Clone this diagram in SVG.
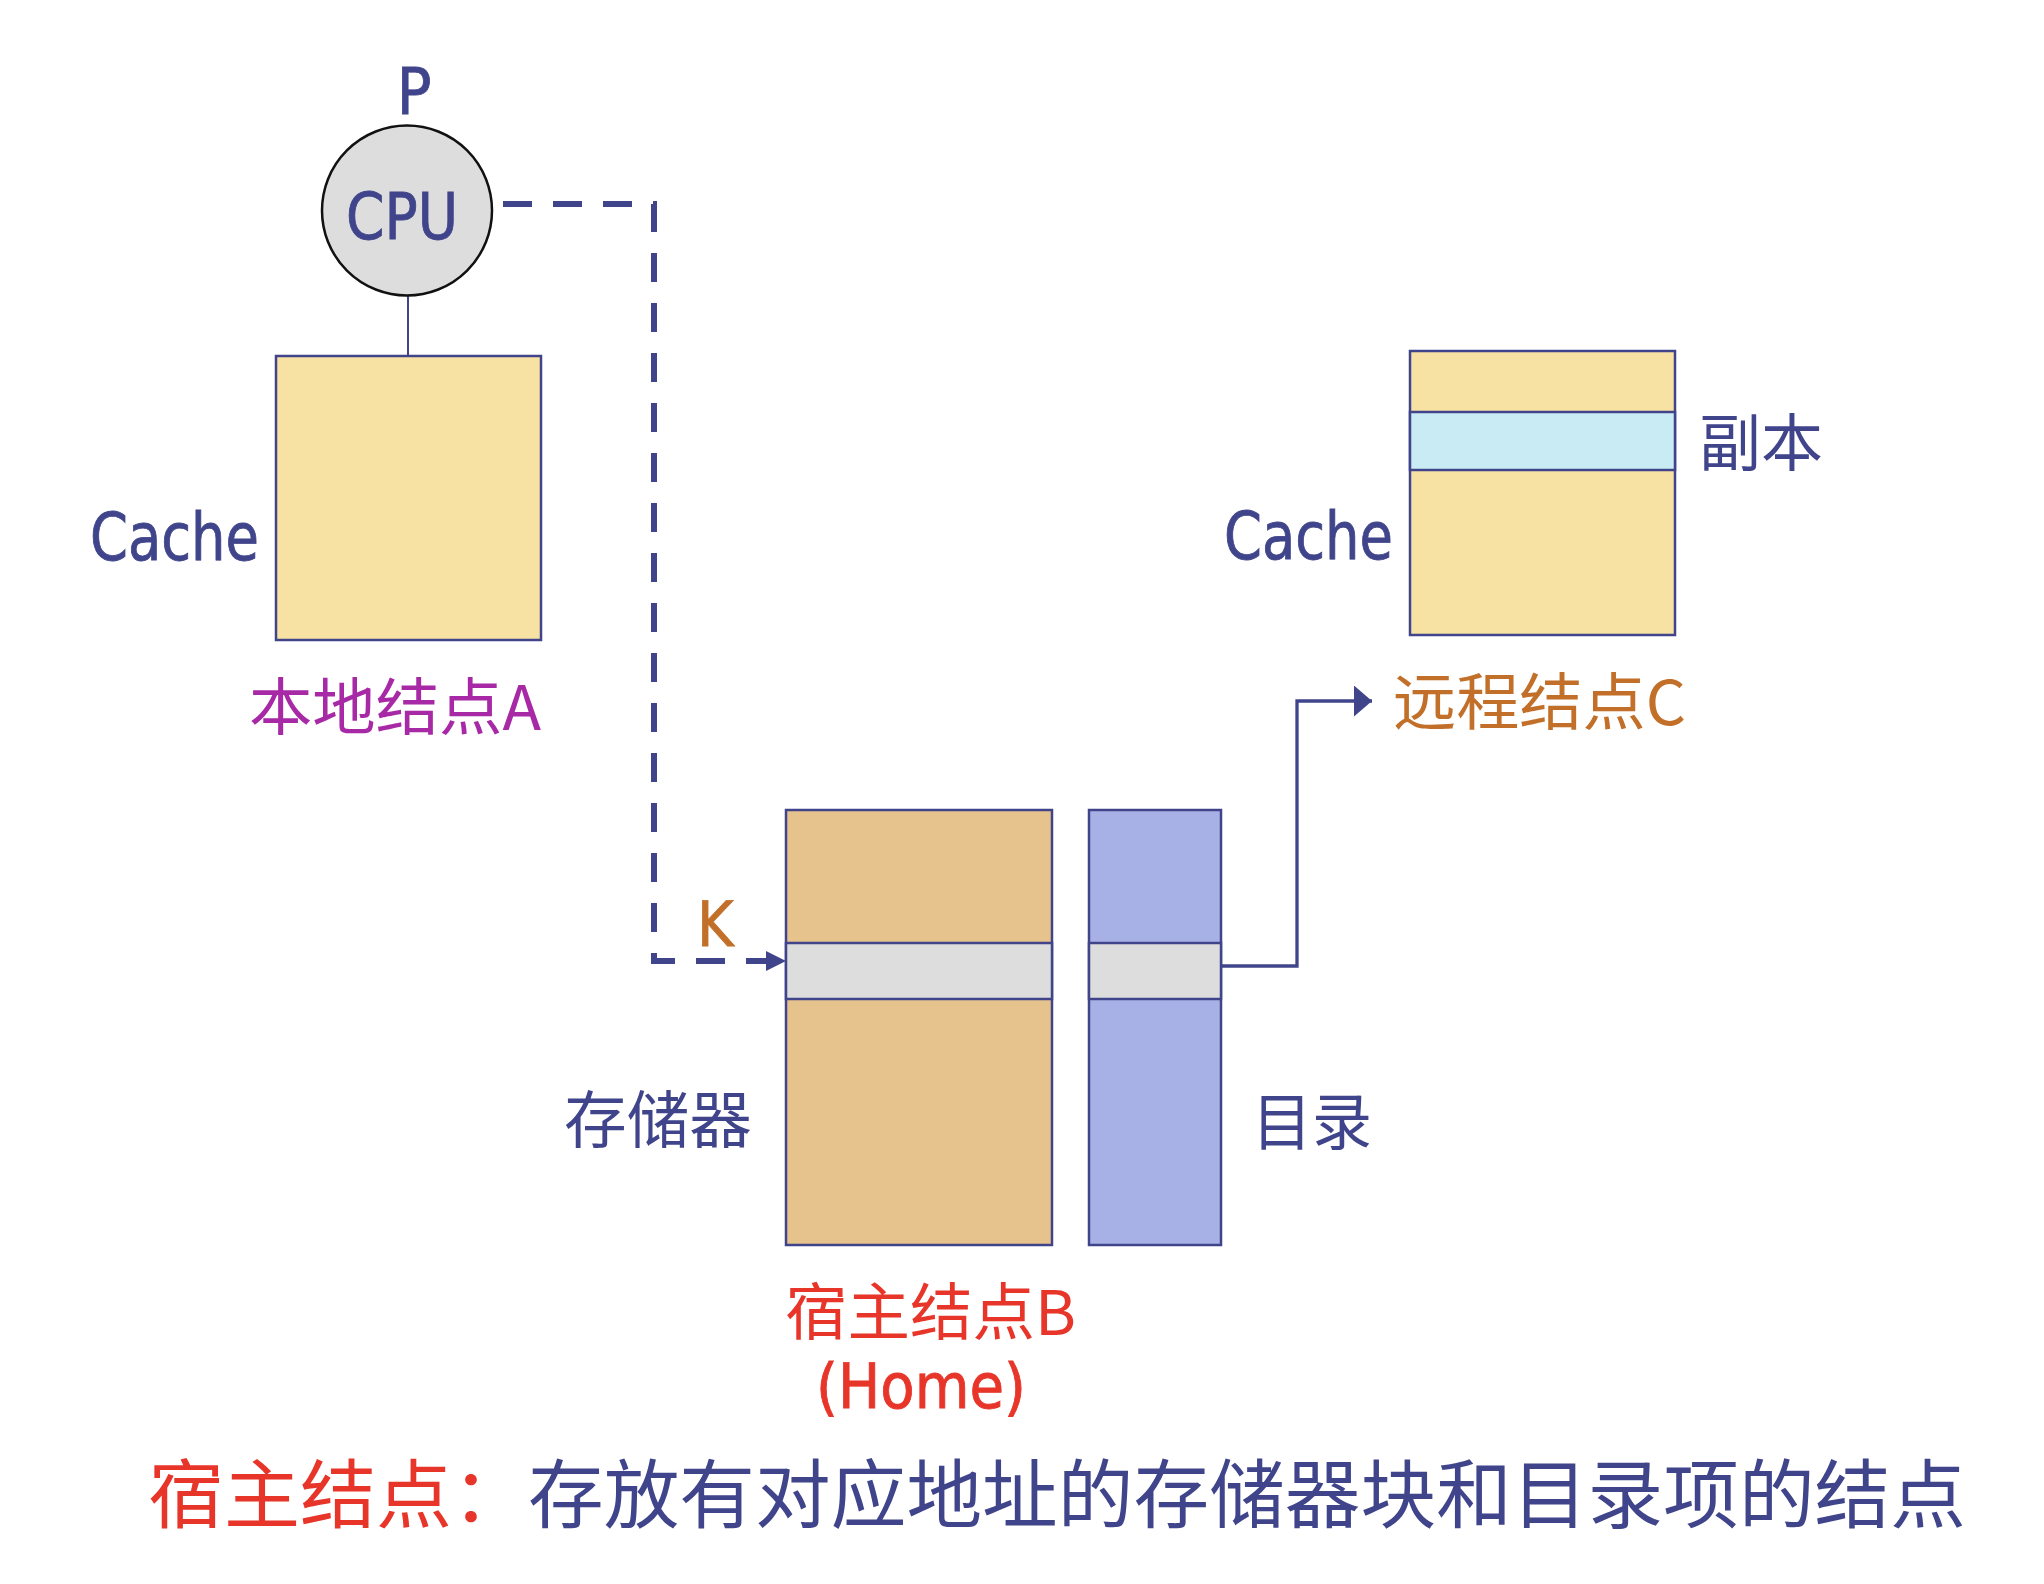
<svg xmlns="http://www.w3.org/2000/svg" width="2044" height="1584" viewBox="0 0 2044 1584">
<style>
.lat{font-family:"DejaVu Sans Condensed","DejaVu Sans",sans-serif;stroke-width:0.8;}
.cjk{font-family:"Noto Sans CJK SC","Noto Sans CJK TC",sans-serif;}
.navy{fill:#40458b;}
.lat.navy{stroke:#40458b;}
.box{stroke:#40458b;stroke-width:2.5;}
.cache{fill:#f7e2a4;}
.mem{fill:#e6c28c;}
.dir{fill:#a8b1e6;}
.band{fill:#dddddd;}
.copy{fill:#c9ebf3;}
.line{fill:none;stroke:#40458b;}
</style>
<defs>
<marker id="arrDash" markerUnits="userSpaceOnUse" markerWidth="22" markerHeight="22" refX="20" refY="10" orient="auto">
<path d="M0,0 L20,10 L0,20 Z" fill="#40458b"/>
</marker>
<marker id="arrSolid" markerUnits="userSpaceOnUse" markerWidth="20" markerHeight="32" refX="18" refY="15.5" orient="auto">
<path d="M0,0 L18,15.5 L0,31 Z" fill="#40458b"/>
</marker>
</defs>
<rect width="2044" height="1584" fill="#ffffff"/>

<g id="connectors">
<line class="line" x1="408" y1="296" x2="408" y2="356" stroke-width="2"/>
<path class="line" d="M503,204 H654 V961 H786" stroke-width="6" stroke-dasharray="29,21" marker-end="url(#arrDash)"/>
<path class="line" d="M1221,966 H1297 V701 H1372" stroke-width="3.3" marker-end="url(#arrSolid)"/>
</g>

<g id="nodeA">
<text class="lat navy" x="414" y="114" font-size="64" text-anchor="middle">P</text>
<circle cx="407" cy="210.5" r="85" fill="#dddddd" stroke="#111111" stroke-width="2.5"/>
<text class="lat navy" x="346" y="239" font-size="64" textLength="112" lengthAdjust="spacingAndGlyphs">CPU</text>
<rect class="box cache" x="276" y="356" width="265" height="284"/>
<text class="lat navy" x="90" y="560" font-size="66" textLength="169" lengthAdjust="spacingAndGlyphs">Cache</text>
<text class="cjk" x="249" y="730" font-size="62" fill="#a829a6" textLength="292" lengthAdjust="spacingAndGlyphs">本地结点A</text>
</g>

<g id="nodeB">
<rect class="box mem" x="786" y="810" width="266" height="435"/>
<rect class="box band" x="786" y="943" width="266" height="56"/>
<rect class="box dir" x="1089" y="810" width="132" height="435"/>
<rect class="box band" x="1089" y="943" width="132" height="56"/>
<text class="lat" x="697" y="946" font-size="62" fill="#c26f2a" stroke="#c26f2a">K</text>
<text class="cjk navy" x="564" y="1143" font-size="62" textLength="188" lengthAdjust="spacingAndGlyphs">存储器</text>
<text class="cjk navy" x="1252" y="1145" font-size="62" textLength="120" lengthAdjust="spacingAndGlyphs">目录</text>
<text class="cjk" x="785" y="1335" font-size="62" fill="#e8352a" textLength="291" lengthAdjust="spacingAndGlyphs">宿主结点B</text>
<text class="lat" x="816" y="1408" font-size="62" fill="#e8352a" stroke="#e8352a" textLength="210" lengthAdjust="spacingAndGlyphs">(Home)</text>
</g>

<g id="nodeC">
<rect class="box cache" x="1410" y="351" width="265" height="284"/>
<rect class="box copy" x="1410" y="412" width="265" height="58"/>
<text class="cjk navy" x="1699" y="466" font-size="62" textLength="124" lengthAdjust="spacingAndGlyphs">副本</text>
<text class="lat navy" x="1224" y="559" font-size="66" textLength="169" lengthAdjust="spacingAndGlyphs">Cache</text>
<text class="cjk" x="1393" y="725" font-size="62" fill="#c26f2a" textLength="293" lengthAdjust="spacingAndGlyphs">远程结点C</text>
</g>

<g id="caption">
<text class="cjk" x="148" y="1522" font-size="75" fill="#e8352a" textLength="380" lengthAdjust="spacingAndGlyphs">宿主结点：</text>
<text class="cjk navy" x="528" y="1522" font-size="75" textLength="1438" lengthAdjust="spacingAndGlyphs">存放有对应地址的存储器块和目录项的结点</text>
</g>
</svg>
